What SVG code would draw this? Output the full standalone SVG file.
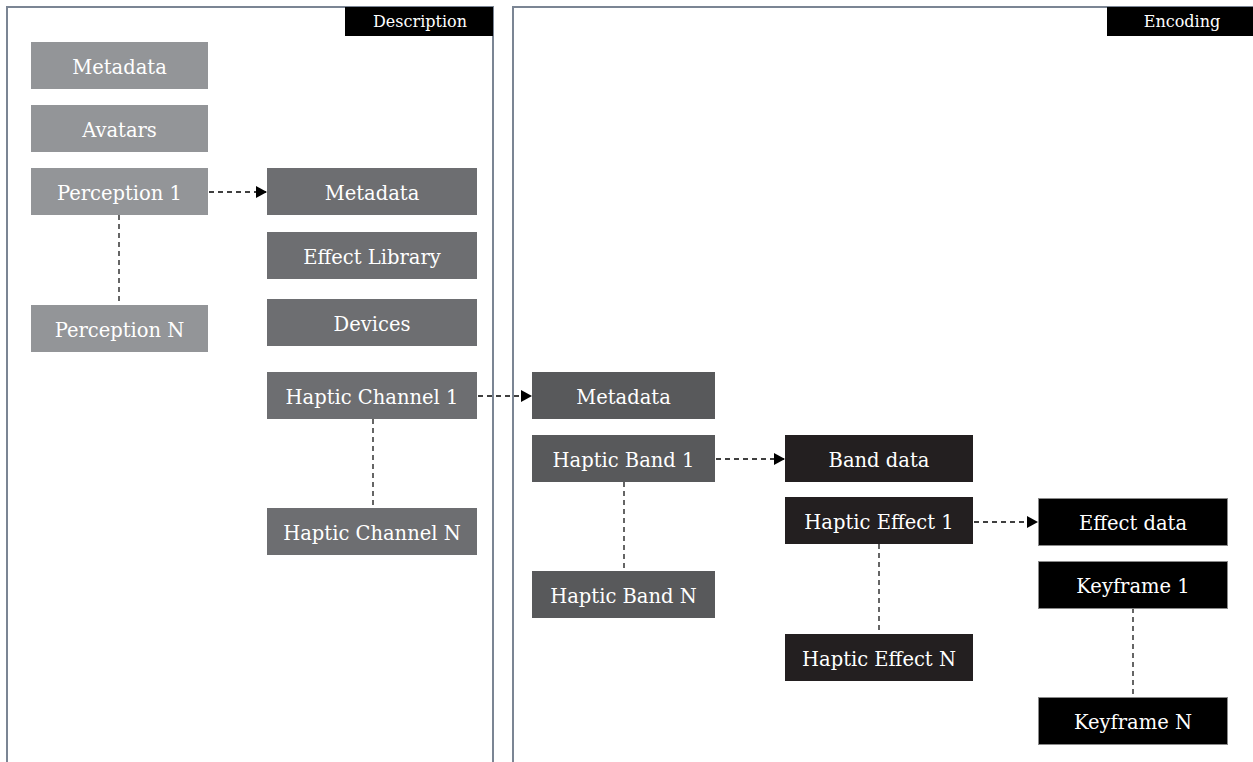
<svg xmlns="http://www.w3.org/2000/svg" width="1253" height="762" viewBox="0 0 1253 762">
<defs>
<style>
.panel{fill:none;stroke:#7b8594;stroke-width:2}
.tab{fill:#000}
.tabt{fill:#fff;font-family:"DejaVu Serif",serif;font-size:16px;text-anchor:middle}
.t{fill:#fff;font-family:"DejaVu Serif",serif;font-size:19.5px;text-anchor:middle}
.l1{fill:#939598}
.l2{fill:#6d6e71}
.l3{fill:#58595b}
.l4{fill:#231f20}
.l5{fill:#000;stroke:#8a8a8a;stroke-width:1}
.dash{stroke:#000;stroke-width:1.5;stroke-dasharray:5 4;fill:none}
.vdash{stroke:#333;stroke-width:1.5;stroke-dasharray:5 4;fill:none}
</style>
<marker id="arr" markerWidth="11" markerHeight="12" refX="10" refY="6" orient="auto" markerUnits="userSpaceOnUse">
<path d="M0,0 L11,6 L0,12 z" fill="#000"/>
</marker>
</defs>
<rect width="1253" height="762" fill="#fff"/>
<g id="panel-description">
<path class="panel" d="M7,770 V7 H493 V770"/>
<rect class="tab" x="345" y="7" width="148" height="29"/>
<text class="tabt" x="420" y="27">Description</text>
</g>
<g id="panel-encoding">
<path class="panel" d="M513,770 V7 H1260"/>
<rect class="tab" x="1107" y="7" width="146" height="29"/>
<text class="tabt" x="1182" y="27">Encoding</text>
</g>
<g id="connectors">
<line class="dash" x1="209" y1="192" x2="266" y2="192" marker-end="url(#arr)"/>
<line class="dash" x1="478" y1="396" x2="531" y2="396" marker-end="url(#arr)"/>
<line class="dash" x1="716" y1="459" x2="784" y2="459" marker-end="url(#arr)"/>
<line class="dash" x1="974" y1="522" x2="1037" y2="522" marker-end="url(#arr)"/>
<line class="vdash" x1="119" y1="215" x2="119" y2="305"/>
<line class="vdash" x1="373" y1="419" x2="373" y2="508"/>
<line class="vdash" x1="624" y1="482" x2="624" y2="571"/>
<line class="vdash" x1="879" y1="544" x2="879" y2="634"/>
<line class="vdash" x1="1133" y1="608" x2="1133" y2="697"/>
</g>
<g id="n-metadata1"><rect class="l1" x="31" y="42" width="177" height="47"/><text class="t" x="119.5" y="74">Metadata</text></g>
<g id="n-avatars"><rect class="l1" x="31" y="105" width="177" height="47"/><text class="t" x="119.5" y="137">Avatars</text></g>
<g id="n-perception1"><rect class="l1" x="31" y="168" width="177" height="47"/><text class="t" x="119.5" y="200">Perception 1</text></g>
<g id="n-perceptionN"><rect class="l1" x="31" y="305" width="177" height="47"/><text class="t" x="119.5" y="337">Perception N</text></g>
<g id="n-metadata2"><rect class="l2" x="267" y="168" width="210" height="47"/><text class="t" x="372" y="200">Metadata</text></g>
<g id="n-effectlib"><rect class="l2" x="267" y="232" width="210" height="47"/><text class="t" x="372" y="264">Effect Library</text></g>
<g id="n-devices"><rect class="l2" x="267" y="299" width="210" height="47"/><text class="t" x="372" y="331">Devices</text></g>
<g id="n-channel1"><rect class="l2" x="267" y="372" width="210" height="47"/><text class="t" x="372" y="404">Haptic Channel 1</text></g>
<g id="n-channelN"><rect class="l2" x="267" y="508" width="210" height="47"/><text class="t" x="372" y="540">Haptic Channel N</text></g>
<g id="n-metadata3"><rect class="l3" x="532" y="372" width="183" height="47"/><text class="t" x="623.5" y="404">Metadata</text></g>
<g id="n-band1"><rect class="l3" x="532" y="435" width="183" height="47"/><text class="t" x="623.5" y="467">Haptic Band 1</text></g>
<g id="n-bandN"><rect class="l3" x="532" y="571" width="183" height="47"/><text class="t" x="623.5" y="603">Haptic Band N</text></g>
<g id="n-banddata"><rect class="l4" x="785" y="435" width="188" height="47"/><text class="t" x="879" y="467">Band data</text></g>
<g id="n-effect1"><rect class="l4" x="785" y="497" width="188" height="47"/><text class="t" x="879" y="529">Haptic Effect 1</text></g>
<g id="n-effectN"><rect class="l4" x="785" y="634" width="188" height="47"/><text class="t" x="879" y="666">Haptic Effect N</text></g>
<g id="n-effectdata"><rect class="l5" x="1038.5" y="498.5" width="189" height="47"/><text class="t" x="1133" y="530">Effect data</text></g>
<g id="n-keyframe1"><rect class="l5" x="1038.5" y="561.5" width="189" height="47"/><text class="t" x="1133" y="593">Keyframe 1</text></g>
<g id="n-keyframeN"><rect class="l5" x="1038.5" y="697.5" width="189" height="47"/><text class="t" x="1133" y="729">Keyframe N</text></g>
</svg>
